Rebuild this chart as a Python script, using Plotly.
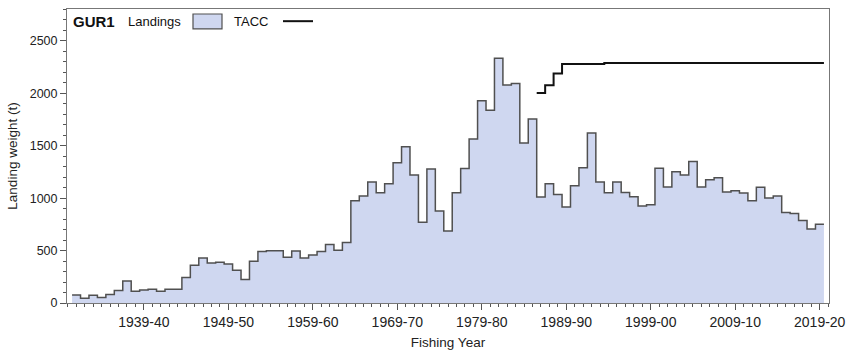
import plotly.graph_objects as go

# Fishing years (start year of each fishing year), 1931-32 .. 2019-20
years = list(range(1931, 2020))
landings = [
    76, 45, 73, 52, 80, 120, 209, 111, 124, 130,      # 1931-1940
    111, 130, 130, 244, 360, 428, 382, 388, 373, 312,  # 1941-1950
    225, 397, 491, 499, 499, 436, 497, 428, 457, 491,  # 1951-1960
    558, 504, 577, 976, 1020, 1153, 1052, 1138, 1337, 1490,  # 1961-1970
    1220, 770, 1277, 877, 687, 1052, 1283, 1565, 1930, 1838,  # 1971-1980
    2335, 2080, 2094, 1527, 1756, 1011, 1138, 1036, 916, 1119,  # 1981-1990
    1290, 1622, 1153, 1052, 1155, 1055, 1014, 925, 938, 1286,  # 1991-2000
    1106, 1252, 1220, 1350, 1106, 1176, 1195, 1058, 1071, 1049,  # 2001-2010
    976, 1103, 1001, 1020, 862, 853, 786, 706, 751,  # 2011-2019
]

tacc_years = list(range(1986, 2020))
tacc = [2003, 2077, 2190, 2280, 2280, 2280, 2280, 2280] + [2288] * 26

tick_years = [1939, 1949, 1959, 1969, 1979, 1989, 1999, 2009, 2019]
tick_labels = ["1939-40", "1949-50", "1959-60", "1969-70", "1979-80",
               "1989-90", "1999-00", "2009-10", "2019-20"]

FONT = "Liberation Sans, Arial, sans-serif"

# step outlines: each year's bar spans year-0.5 .. year+0.5
land_x = [y - 0.5 for y in years] + [years[-1] + 0.5]
land_y = landings + [landings[-1]]
tacc_x = [y - 0.5 for y in tacc_years] + [tacc_years[-1] + 0.5]
tacc_y = tacc + [tacc[-1]]

fig = go.Figure()
fig.add_trace(go.Scatter(
    x=land_x, y=land_y, mode="lines", line_shape="hv",
    line=dict(color="#505050", width=1.5),
    fill="tozeroy", fillcolor="#CFD7F0", name="Landings", showlegend=False,
))
fig.add_trace(go.Scatter(
    x=tacc_x, y=tacc_y, mode="lines", line_shape="hv",
    line=dict(color="#111111", width=2), name="TACC", showlegend=False,
))

FW, FH = 850, 355
L, R, T, B = 67, 829, 8.5, 303
W, H = R - L, B - T

def px(x):
    return (x - L) / W

def py(y):
    return (B - y) / H

fig.add_annotation(x=px(71), y=py(21.5), xref="paper", yref="paper",
                   text="<b>GUR1</b>", showarrow=False, xanchor="left",
                   yanchor="middle", font=dict(family=FONT, size=15, color="#111"))
fig.add_annotation(x=px(126), y=py(21.5), xref="paper", yref="paper",
                   text="Landings", showarrow=False, xanchor="left",
                   yanchor="middle", font=dict(family=FONT, size=13, color="#111"))
fig.add_annotation(x=px(232), y=py(21.5), xref="paper", yref="paper",
                   text="TACC", showarrow=False, xanchor="left",
                   yanchor="middle", font=dict(family=FONT, size=13, color="#111"))
fig.add_shape(type="rect", xref="paper", yref="paper",
              x0=px(193), x1=px(222), y0=py(28.5), y1=py(13.5),
              fillcolor="#CFD7F0", line=dict(color="#505050", width=1.2))
fig.add_shape(type="line", xref="paper", yref="paper",
              x0=px(283), x1=px(313), y0=py(20.7), y1=py(20.7),
              line=dict(color="#111111", width=2))

fig.update_layout(
    width=FW, height=FH,
    margin=dict(l=L, r=FW - R, t=T, b=FH - B, autoexpand=False),
    paper_bgcolor="white", plot_bgcolor="white",
    font=dict(family=FONT, size=13, color="#222"),
)
fig.update_xaxes(
    range=[1929.9, 2020.1], tickmode="array", tickvals=tick_years, ticktext=tick_labels,
    ticks="outside", ticklen=6, tickcolor="#555", showgrid=False, zeroline=False,
    showline=True, linecolor="#777", linewidth=1, mirror=True,
    minor=dict(dtick=1, tick0=1931, ticks="outside", ticklen=3, tickcolor="#555", showgrid=False),
    title=dict(text="Fishing Year", font=dict(size=13.5), standoff=8),
    tickfont=dict(size=14), ticklabeloverflow="allow",
)
fig.update_yaxes(
    range=[0, 2804], tickvals=[0, 500, 1000, 1500, 2000, 2500],
    ticks="outside", ticklen=6, tickcolor="#555", showgrid=False, zeroline=False,
    showline=True, linecolor="#777", linewidth=1, mirror=True,
    minor=dict(dtick=100, tick0=0, ticks="outside", ticklen=3, tickcolor="#555", showgrid=False),
    title=dict(text="Landing weight (t)", font=dict(size=13.5), standoff=8),
    tickfont=dict(size=12.5),
)

fig.write_html(
    "out.html",
    config={"displayModeBar": False},
    post_script="document.body.style.margin='0';document.body.style.overflow='hidden';",
)
